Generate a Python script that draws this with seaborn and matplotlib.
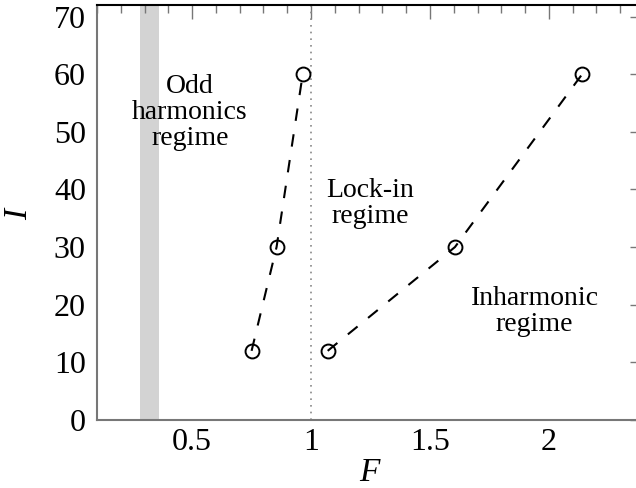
import matplotlib
matplotlib.use("Agg")
import matplotlib.pyplot as plt
import seaborn as sns
from matplotlib.ticker import MultipleLocator, FuncFormatter

sns.set_theme(style="white")
plt.rcParams['font.family'] = ['Liberation Serif', 'DejaVu Serif']
plt.rcParams['mathtext.fontset'] = 'custom'
plt.rcParams['mathtext.it'] = 'Liberation Serif:italic'
plt.rcParams['text.color'] = 'black'
plt.rcParams['axes.labelcolor'] = 'black'

# Data
F_low = [0.75, 0.855, 0.965]
I_low = [12, 30, 60]
F_high = [1.07, 1.605, 2.14]
I_high = [12, 30, 60]
band = (0.28, 0.36)
lockin_F = 1.0
x_ticks = [0.5, 1, 1.5, 2]
y_ticks = [0, 10, 20, 30, 40, 50, 60, 70]

fig = plt.figure(figsize=(6.36, 4.88), dpi=100)
ax = fig.add_axes([97/636, 1-420/488, (644-97)/636, (420-5)/488])

ax.axvspan(band[0], band[1], color='#d3d3d3', lw=0, zorder=0)
ax.axvline(lockin_F, color='#888888', lw=1.2, ls=(0, (1, 3)), zorder=1)

for fx, iy in [(F_low, I_low), (F_high, I_high)]:
    sns.lineplot(x=fx, y=iy, ax=ax, sort=False, estimator=None, color='black',
                 lw=1.5, dashes=False, linestyle=(0, (6, 6.5)), marker='o', markersize=10,
                 markerfacecolor='none', markeredgecolor='black', markeredgewidth=1.4)

ax.set_xlim(0.1, 2.4)
ax.set_ylim(0, 72)
ax.set_xticks(x_ticks)
ax.set_yticks(y_ticks)
ax.xaxis.set_major_formatter(FuncFormatter(lambda v, p: f"{v:g}"))
ax.xaxis.set_minor_locator(MultipleLocator(0.1))
ax.yaxis.set_minor_locator(MultipleLocator(2))
ax.tick_params(which='both', direction='in', top=True, right=True, colors='#777777',
               labelcolor='black', labelsize=23)
ax.tick_params(which='major', length=10, width=1.0)
ax.tick_params(which='minor', length=6, width=1.0)
ax.tick_params(axis='x', pad=6)
ax.tick_params(axis='y', pad=8)

for s in ['left', 'bottom']:
    ax.spines[s].set_color('#777777')
    ax.spines[s].set_linewidth(1.5)
ax.spines['top'].set_color('black')
ax.spines['top'].set_linewidth(1.5)
ax.spines['right'].set_color('black')

ax.set_xlabel('$F$', fontsize=24, labelpad=0)
ax.set_ylabel('$I$', fontsize=24, labelpad=14)

ax.text(0.49, 53.4, 'Odd\nharmonics\nregime', fontsize=20, ha='center', va='center', linespacing=1.05)
ax.text(1.247, 37.6, 'Lock-in\nregime', fontsize=20, ha='center', va='center', linespacing=1.05)
ax.text(1.94, 18.8, 'Inharmonic\nregime', fontsize=20, ha='center', va='center', linespacing=1.05)

fig.savefig('out.png', dpi=100)
